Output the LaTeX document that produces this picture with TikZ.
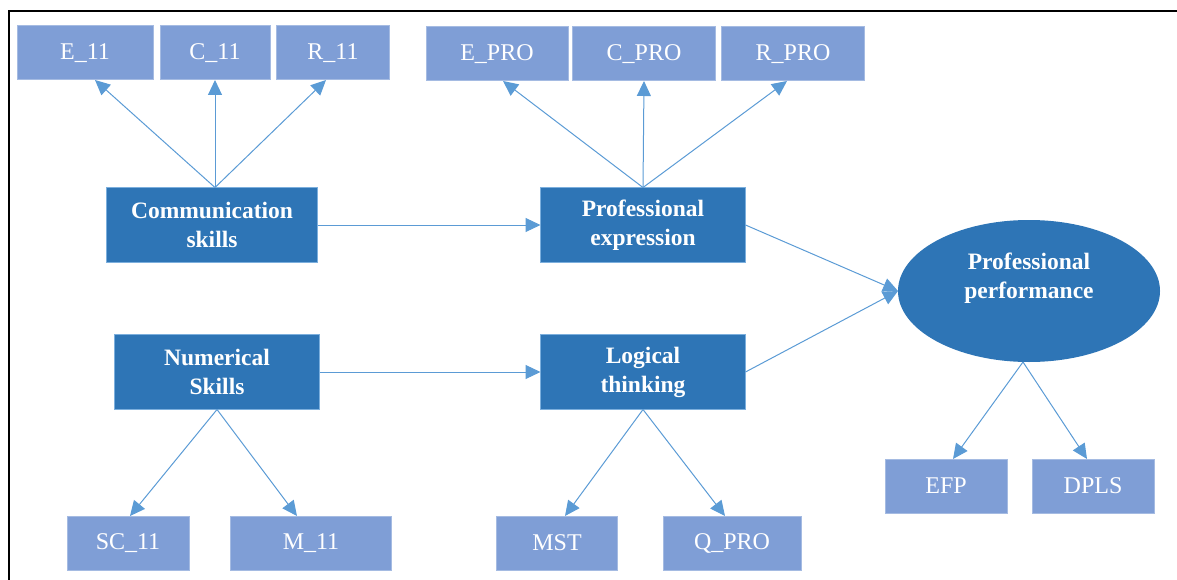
\documentclass[tikz,border=0pt]{standalone}
\usepackage{fontspec}
\setmainfont{Liberation Serif}
\usetikzlibrary{arrows.meta,shapes.geometric}
\definecolor{darkbox}{HTML}{2E75B6}
\definecolor{lightbox}{HTML}{7F9ED6}
\definecolor{arrowblue}{HTML}{5B9BD5}
\tikzset{
	obs/.style={draw=lightbox!70!white,line width=1pt,fill=lightbox,text=white,inner sep=0pt,outer sep=0pt,minimum height=54pt,font=\fontsize{24}{29}\selectfont},
	latent/.style={draw=arrowblue!80!white,line width=1pt,fill=darkbox,text=white,inner sep=0pt,outer sep=0pt,minimum width=205pt,minimum height=75pt,align=center,font=\fontsize{23.5}{29}\selectfont\bfseries},
	link/.style={arrowblue,line width=1pt,-{Triangle[length=15pt,width=14pt]}}
}
\begin{document}
\begin{tikzpicture}[x=1pt,y=-1pt]
	\useasboundingbox (0,0) rectangle (1177,580);
	\draw[line width=2pt] (9,580) -- (9,11) -- (1177,11);
	\node[obs,minimum width=136pt](e11) at (85,53) {E\_11};
	\node[obs,minimum width=110pt](c11) at (215,53) {C\_11};
	\node[obs,minimum width=113pt](r11) at (333,53) {R\_11};
	\node[obs,minimum width=142pt](epro) at (497,54) {E\_PRO};
	\node[obs,minimum width=143pt](cpro) at (644,54) {C\_PRO};
	\node[obs,minimum width=143pt](rpro) at (793,54) {R\_PRO};
	\node[latent,minimum width=211pt](comm) at (212,225) {Communication\\skills};
	\node[latent](expr) at (643,225) {Professional\\expression};
	\node[latent](num) at (217,372) {Numerical\\Skills};
	\node[latent](logic) at (643,372) {Logical\\thinking};
	\node[ellipse,fill=darkbox,inner sep=0pt,outer sep=0pt,minimum width=262pt,minimum height=142pt](perf) at (1029,291) {};
	\node[text=white,align=center,font=\fontsize{23.5}{29}\selectfont\bfseries](perftext) at ([yshift=13pt]perf.center) {Professional\\performance};
	\node[obs,minimum width=122pt](sc11) at (128,543) {SC\_11};
	\node[obs,minimum width=161pt](m11) at (311,543) {M\_11};
	\node[obs,minimum width=121pt](mst) at (557,543) {MST};
	\node[obs,minimum width=138pt](qpro) at (732,543) {Q\_PRO};
	\node[obs,minimum width=122pt](efp) at (946,486) {EFP};
	\node[obs,minimum width=122pt](dpls) at (1093,486) {DPLS};
	\draw[link] ([xshift=3pt]comm.north) -- ([xshift=10pt]e11.south);
	\draw[link] ([xshift=3pt]comm.north) -- (c11.south);
	\draw[link] ([xshift=3pt]comm.north) -- ([xshift=-7pt]r11.south);
	\draw[link] (expr.north) -- ([xshift=6pt]epro.south);
	\draw[link] (expr.north) -- (cpro.south);
	\draw[link] (expr.north) -- ([xshift=-6pt]rpro.south);
	\draw[link] (comm.east) -- (expr.west);
	\draw[link] (num.east) -- (logic.west);
	\draw[link] (expr.east) -- (perf.west);
	\draw[link] (logic.east) -- (perf.west);
	\draw[link] (num.south) -- ([xshift=2pt]sc11.north);
	\draw[link] (num.south) -- ([xshift=-14pt]m11.north);
	\draw[link] (logic.south) -- ([xshift=8pt]mst.north);
	\draw[link] (logic.south) -- ([xshift=-7pt]qpro.north);
	\draw[link] ([xshift=-6pt]perf.south) -- ([xshift=7pt]efp.north);
	\draw[link] ([xshift=-6pt]perf.south) -- ([xshift=-6pt]dpls.north);
\end{tikzpicture}
\end{document}
